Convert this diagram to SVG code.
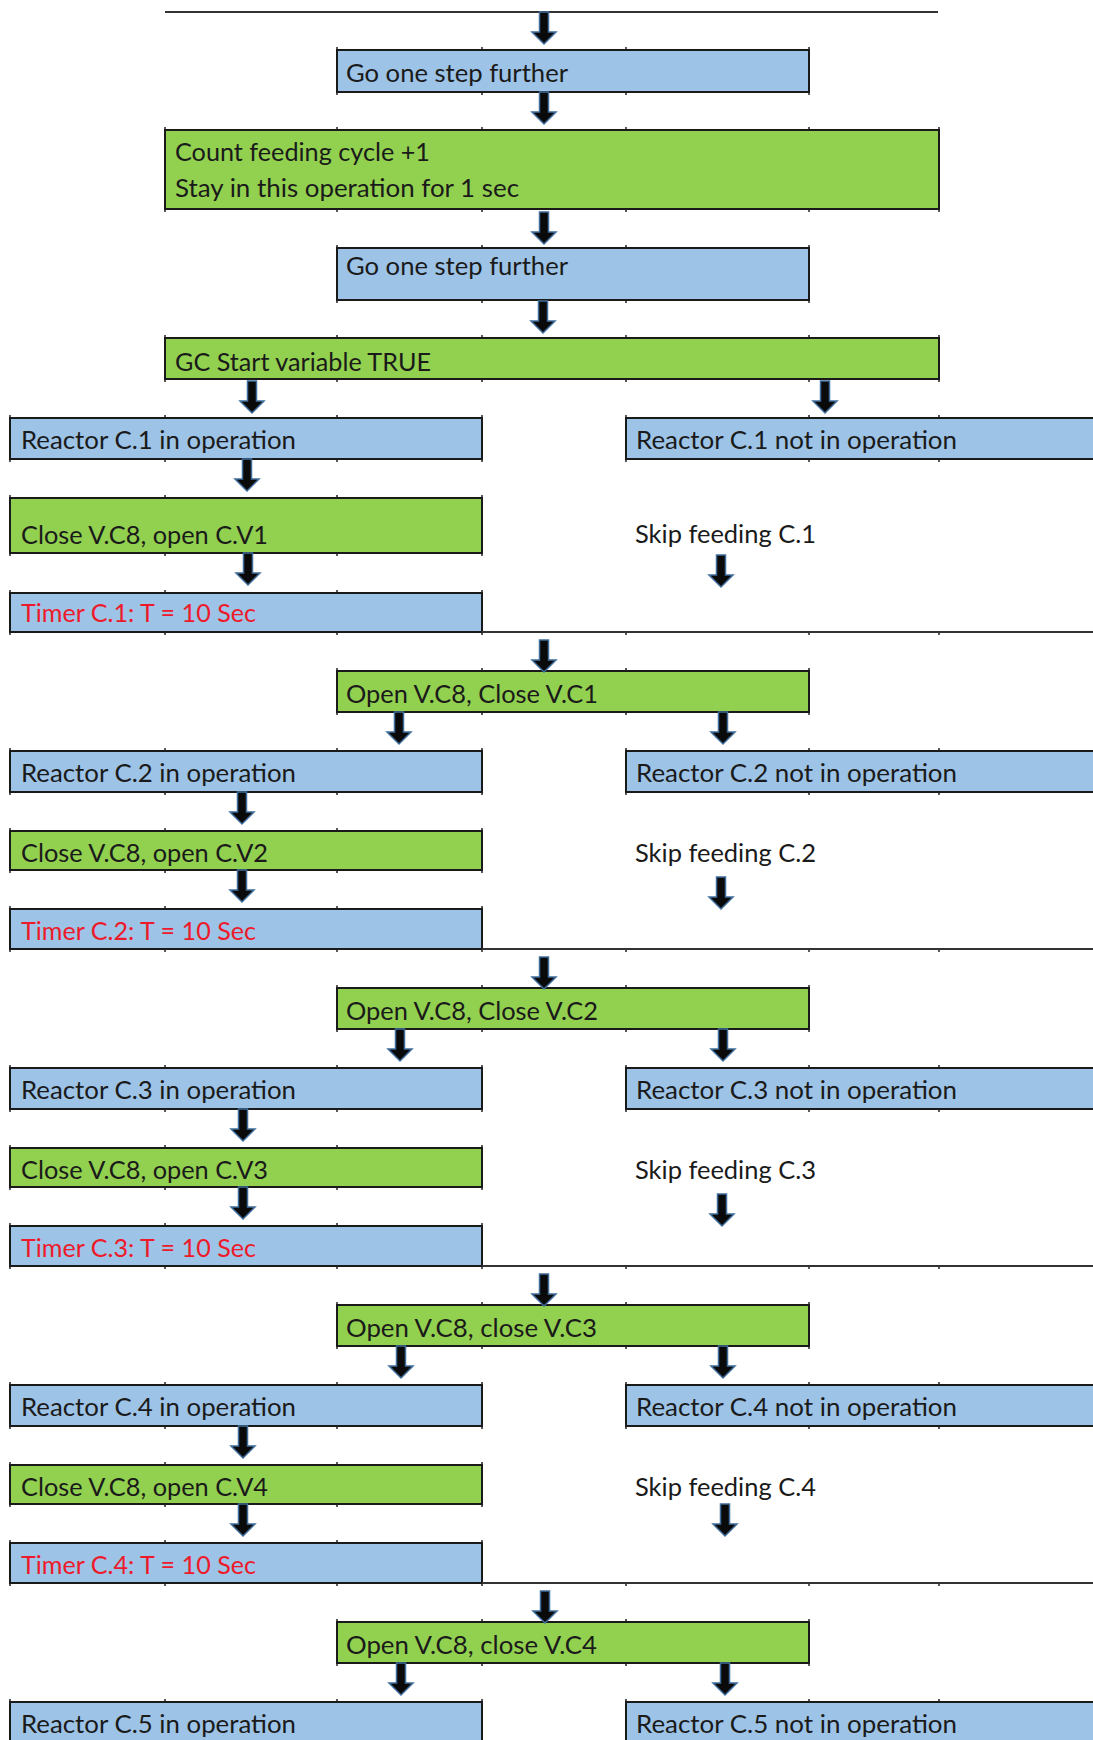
<svg xmlns="http://www.w3.org/2000/svg" xmlns:xlink="http://www.w3.org/1999/xlink" width="1093" height="1740" viewBox="0 0 1093 1740">
  <style>
    .blue { fill: #9dc3e6; stroke: #1a1a1a; stroke-width: 2; }
    .green { fill: #92d050; stroke: #1a1a1a; stroke-width: 2; }
    .t { font-family: Lato, "Liberation Sans", sans-serif; font-size: 25px; fill: #1a1a1a; }
    .red { fill: #ec1a2a; }
    .arrow { fill: #0a0a0a; stroke: #3f6d9c; stroke-width: 1.5; stroke-linejoin: miter; }
    .rule { stroke: #333333; stroke-width: 2; fill: none; }
    .tick { stroke: #222222; stroke-width: 1.5; fill: none; }
  </style>
  <defs>
    <!-- block arrow pointing down, 32px long, origin at top centre -->
    <path id="arr" class="arrow" d="M-4.5 0H4.5V20H12L0 32L-12 20H-4.5Z"/>
    <!-- cell-grid ticks for one repeating section, relative to the top of the "Open" box -->
    <path id="ticksOpenReactor" class="tick" d="M337 -3v3M482 -3v3M626 -3v3M809 -3v3M337 41v3M482 41v3M626 41v3M809 41v3M10 77v3M165 77v3M337 77v3M482 77v3M626 77v3M809 77v3M939 77v3M10 121v3M165 121v3M337 121v3M482 121v3M626 121v3M809 121v3M939 121v3"/>
    <path id="ticksCloseTimer" class="tick" d="M10 157v3M165 157v3M337 157v3M482 157v3M10 199v3M165 199v3M337 199v3M482 199v3M10 235v3M165 235v3M337 235v3M482 235v3M10 278v3M165 278v3M337 278v3M482 278v3M626 278v3M809 278v3M939 278v3"/>
  </defs>

  <rect width="1093" height="1740" fill="#ffffff"/>

  <!-- grid ticks -->
  <g id="grid-ticks">
    <path class="tick" d="M337 47v3M482 47v3M626 47v3M809 47v3M337 92v3M482 92v3M626 92v3M809 92v3
      M165 127v3M337 127v3M482 127v3M626 127v3M809 127v3M939 127v3M165 209v3M337 209v3M482 209v3M626 209v3M809 209v3M939 209v3
      M337 245v3M482 245v3M626 245v3M809 245v3M337 300v3M482 300v3M626 300v3M809 300v3
      M165 335v3M337 335v3M482 335v3M626 335v3M809 335v3M939 335v3M165 379v3M337 379v3M482 379v3M626 379v3M809 379v3M939 379v3
      M10 415v3M165 415v3M337 415v3M482 415v3M626 415v3M809 415v3M939 415v3M10 459v3M165 459v3M337 459v3M482 459v3M626 459v3M809 459v3M939 459v3
      M10 495v3M165 495v3M337 495v3M482 495v3M10 553v3M165 553v3M337 553v3M482 553v3
      M10 590v3M165 590v3M337 590v3M482 590v3M10 632v3M165 632v3M337 632v3M482 632v3M626 632v3M809 632v3M939 632v3"/>
    <use xlink:href="#ticksOpenReactor" y="671"/>
    <use xlink:href="#ticksCloseTimer" y="671"/>
    <use xlink:href="#ticksOpenReactor" y="988"/>
    <use xlink:href="#ticksCloseTimer" y="988"/>
    <use xlink:href="#ticksOpenReactor" y="1305"/>
    <use xlink:href="#ticksCloseTimer" y="1305"/>
    <use xlink:href="#ticksOpenReactor" y="1622"/>
  </g>

  <!-- head: step, count, step, GC start -->
  <g id="step-1"><rect class="blue" x="337" y="50" width="472" height="42"/>
    <text class="t" x="346" y="82" textLength="222" lengthAdjust="spacingAndGlyphs">Go one step further</text></g>
  <g id="count-cycle"><rect class="green" x="165" y="130" width="774" height="79"/>
    <text class="t" x="175" y="161" textLength="255" lengthAdjust="spacingAndGlyphs">Count feeding cycle +1</text>
    <text class="t" x="175" y="197" textLength="344" lengthAdjust="spacingAndGlyphs">Stay in this operation for 1 sec</text></g>
  <g id="step-2"><rect class="blue" x="337" y="248" width="472" height="52"/>
    <text class="t" x="346" y="275" textLength="222" lengthAdjust="spacingAndGlyphs">Go one step further</text></g>
  <g id="gc-start"><rect class="green" x="165" y="338" width="774" height="41"/>
    <text class="t" x="175" y="371" textLength="256" lengthAdjust="spacingAndGlyphs">GC Start variable TRUE</text></g>

  <!-- reactor C.1 -->
  <g id="c1-in"><rect class="blue" x="10" y="418" width="472" height="41"/>
    <text class="t" x="21" y="449" textLength="275" lengthAdjust="spacingAndGlyphs">Reactor C.1 in operation</text></g>
  <g id="c1-not"><rect class="blue" x="626" y="418" width="480" height="41"/>
    <text class="t" x="636" y="449" textLength="321" lengthAdjust="spacingAndGlyphs">Reactor C.1 not in operation</text></g>
  <g id="c1-close"><rect class="green" x="10" y="498" width="472" height="55"/>
    <text class="t" x="21" y="544" textLength="247" lengthAdjust="spacingAndGlyphs">Close V.C8, open C.V1</text></g>
  <g id="c1-skip"><text class="t" x="635" y="543" textLength="181" lengthAdjust="spacingAndGlyphs">Skip feeding C.1</text></g>
  <g id="c1-timer"><rect class="blue" x="10" y="593" width="472" height="39"/>
    <text class="t red" x="21" y="622" textLength="235" lengthAdjust="spacingAndGlyphs">Timer C.1: T = 10 Sec</text></g>

  <!-- reactor C.2 -->
  <g id="open-1"><rect class="green" x="337" y="671" width="472" height="41"/>
    <text class="t" x="346" y="703" textLength="252" lengthAdjust="spacingAndGlyphs">Open V.C8, Close V.C1</text></g>
  <g id="c2-in"><rect class="blue" x="10" y="751" width="472" height="41"/>
    <text class="t" x="21" y="782" textLength="275" lengthAdjust="spacingAndGlyphs">Reactor C.2 in operation</text></g>
  <g id="c2-not"><rect class="blue" x="626" y="751" width="480" height="41"/>
    <text class="t" x="636" y="782" textLength="321" lengthAdjust="spacingAndGlyphs">Reactor C.2 not in operation</text></g>
  <g id="c2-close"><rect class="green" x="10" y="831" width="472" height="39"/>
    <text class="t" x="21" y="862" textLength="247" lengthAdjust="spacingAndGlyphs">Close V.C8, open C.V2</text></g>
  <g id="c2-skip"><text class="t" x="635" y="862" textLength="181" lengthAdjust="spacingAndGlyphs">Skip feeding C.2</text></g>
  <g id="c2-timer"><rect class="blue" x="10" y="909" width="472" height="40"/>
    <text class="t red" x="21" y="940" textLength="235" lengthAdjust="spacingAndGlyphs">Timer C.2: T = 10 Sec</text></g>

  <!-- reactor C.3 -->
  <g id="open-2"><rect class="green" x="337" y="988" width="472" height="41"/>
    <text class="t" x="346" y="1020" textLength="252" lengthAdjust="spacingAndGlyphs">Open V.C8, Close V.C2</text></g>
  <g id="c3-in"><rect class="blue" x="10" y="1068" width="472" height="41"/>
    <text class="t" x="21" y="1099" textLength="275" lengthAdjust="spacingAndGlyphs">Reactor C.3 in operation</text></g>
  <g id="c3-not"><rect class="blue" x="626" y="1068" width="480" height="41"/>
    <text class="t" x="636" y="1099" textLength="321" lengthAdjust="spacingAndGlyphs">Reactor C.3 not in operation</text></g>
  <g id="c3-close"><rect class="green" x="10" y="1148" width="472" height="39"/>
    <text class="t" x="21" y="1179" textLength="247" lengthAdjust="spacingAndGlyphs">Close V.C8, open C.V3</text></g>
  <g id="c3-skip"><text class="t" x="635" y="1179" textLength="181" lengthAdjust="spacingAndGlyphs">Skip feeding C.3</text></g>
  <g id="c3-timer"><rect class="blue" x="10" y="1226" width="472" height="40"/>
    <text class="t red" x="21" y="1257" textLength="235" lengthAdjust="spacingAndGlyphs">Timer C.3: T = 10 Sec</text></g>

  <!-- reactor C.4 -->
  <g id="open-3"><rect class="green" x="337" y="1305" width="472" height="41"/>
    <text class="t" x="346" y="1337" textLength="251" lengthAdjust="spacingAndGlyphs">Open V.C8, close V.C3</text></g>
  <g id="c4-in"><rect class="blue" x="10" y="1385" width="472" height="41"/>
    <text class="t" x="21" y="1416" textLength="275" lengthAdjust="spacingAndGlyphs">Reactor C.4 in operation</text></g>
  <g id="c4-not"><rect class="blue" x="626" y="1385" width="480" height="41"/>
    <text class="t" x="636" y="1416" textLength="321" lengthAdjust="spacingAndGlyphs">Reactor C.4 not in operation</text></g>
  <g id="c4-close"><rect class="green" x="10" y="1465" width="472" height="39"/>
    <text class="t" x="21" y="1496" textLength="247" lengthAdjust="spacingAndGlyphs">Close V.C8, open C.V4</text></g>
  <g id="c4-skip"><text class="t" x="635" y="1496" textLength="181" lengthAdjust="spacingAndGlyphs">Skip feeding C.4</text></g>
  <g id="c4-timer"><rect class="blue" x="10" y="1543" width="472" height="40"/>
    <text class="t red" x="21" y="1574" textLength="235" lengthAdjust="spacingAndGlyphs">Timer C.4: T = 10 Sec</text></g>

  <!-- reactor C.5 -->
  <g id="open-4"><rect class="green" x="337" y="1622" width="472" height="41"/>
    <text class="t" x="346" y="1654" textLength="251" lengthAdjust="spacingAndGlyphs">Open V.C8, close V.C4</text></g>
  <g id="c5-in"><rect class="blue" x="10" y="1702" width="472" height="41"/>
    <text class="t" x="21" y="1733" textLength="275" lengthAdjust="spacingAndGlyphs">Reactor C.5 in operation</text></g>
  <g id="c5-not"><rect class="blue" x="626" y="1702" width="480" height="41"/>
    <text class="t" x="636" y="1733" textLength="321" lengthAdjust="spacingAndGlyphs">Reactor C.5 not in operation</text></g>

  <!-- connectors: rules and arrows -->
  <g id="connectors">
    <path class="rule" d="M165 12H938M482 632H1093M482 949H1093M482 1266H1093M482 1583H1093"/>
    <use xlink:href="#arr" x="544" y="12"/>
    <use xlink:href="#arr" x="544" y="92"/>
    <use xlink:href="#arr" x="544" y="212"/>
    <use xlink:href="#arr" x="543" y="301"/>
    <use xlink:href="#arr" x="252" y="381"/>
    <use xlink:href="#arr" x="825" y="381"/>
    <use xlink:href="#arr" x="247" y="459"/>
    <use xlink:href="#arr" x="248" y="553"/>
    <use xlink:href="#arr" x="721" y="555"/>

    <use xlink:href="#arr" x="544" y="640"/>
    <use xlink:href="#arr" x="399" y="712"/>
    <use xlink:href="#arr" x="723" y="712"/>
    <use xlink:href="#arr" x="242" y="792"/>
    <use xlink:href="#arr" x="242" y="870"/>
    <use xlink:href="#arr" x="721" y="877"/>

    <use xlink:href="#arr" x="544" y="957"/>
    <use xlink:href="#arr" x="400" y="1029"/>
    <use xlink:href="#arr" x="723" y="1029"/>
    <use xlink:href="#arr" x="243" y="1109"/>
    <use xlink:href="#arr" x="243" y="1187"/>
    <use xlink:href="#arr" x="722" y="1194"/>

    <use xlink:href="#arr" x="544" y="1274"/>
    <use xlink:href="#arr" x="401" y="1346"/>
    <use xlink:href="#arr" x="723" y="1346"/>
    <use xlink:href="#arr" x="243" y="1426"/>
    <use xlink:href="#arr" x="243" y="1504"/>
    <use xlink:href="#arr" x="725" y="1504"/>

    <use xlink:href="#arr" x="545" y="1591"/>
    <use xlink:href="#arr" x="401" y="1663"/>
    <use xlink:href="#arr" x="725" y="1663"/>
  </g>
</svg>
